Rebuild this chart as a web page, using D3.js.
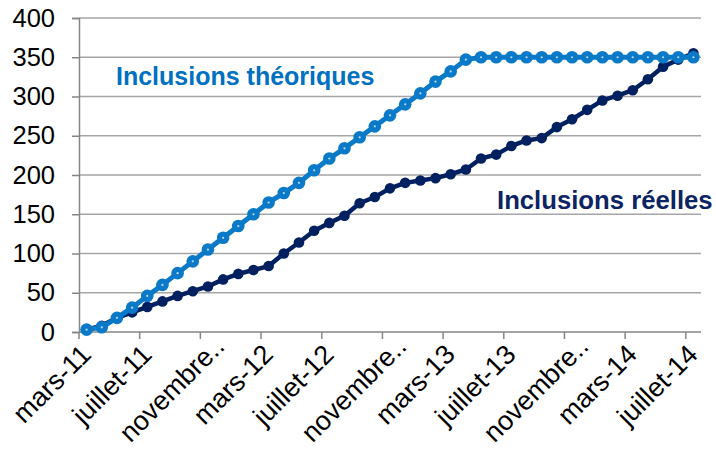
<!DOCTYPE html>
<html>
<head>
<meta charset="utf-8">
<script src="https://cdn.jsdelivr.net/npm/d3@7"></script>
<style>
  body { margin: 0; background: #fff; }
  text { font-family: "Liberation Sans", Arial, sans-serif; }
</style>
</head>
<body>
<script>
// mois de mars 2011 a juillet 2014
var mois = ["mars-11", "avril-11", "mai-11", "juin-11", "juillet-11", "août-11", "septembre-11", "octobre-11",
    "novembre-11", "décembre-11", "janvier-12", "février-12", "mars-12", "avril-12", "mai-12", "juin-12",
    "juillet-12", "août-12", "septembre-12", "octobre-12", "novembre-12", "décembre-12", "janvier-13", "février-13",
    "mars-13", "avril-13", "mai-13", "juin-13", "juillet-13", "août-13", "septembre-13", "octobre-13",
    "novembre-13", "décembre-13", "janvier-14", "février-14", "mars-14", "avril-14", "mai-14", "juin-14", "juillet-14"];

var tickLabels = ["mars-11", "juillet-11", "novembre..", "mars-12", "juillet-12", "novembre..",
    "mars-13", "juillet-13", "novembre..", "mars-14", "juillet-14"];

var yTicks = [0, 50, 100, 150, 200, 250, 300, 350, 400];

var theoriques = [3, 6, 18, 31, 46, 60, 75, 90, 105, 120, 135, 150, 165, 177, 190, 206, 221, 234, 248, 262,
    276, 290, 304, 319, 332, 347, 350, 350, 350, 350, 350, 350, 350, 350, 350, 350, 350, 350, 350, 350, 350];

var reelles = [3, 8, 18, 25, 32, 39, 46, 52, 58, 67, 74, 79, 84, 100, 114, 129, 139, 148, 164, 172,
    183, 190, 193, 196, 201, 207, 221, 226, 237, 244, 247, 261, 271, 283, 295, 301, 308, 322, 338, 347, 355];

function draw() {
    var width = 716;
    var height = 452;
    var svg = d3.select("body")
        .append("svg")
        .attr("width", width)
        .attr("height", height);

    var x = d3.scaleBand().domain(mois).range([79, 701]);
    var y = d3.scaleLinear().domain([0, 400]).range([332, 18]);
    var cx = d => x(d) + x.bandwidth() / 2;

    // grille
    svg.append("g")
        .selectAll("line")
        .data(yTicks.slice(1))
        .join("line")
        .attr("x1", 79)
        .attr("x2", 701)
        .attr("y1", d => y(d))
        .attr("y2", d => y(d))
        .attr("stroke", "#a6a6a6")
        .attr("stroke-width", 1.3);

    // axe Y
    var yAxis = svg.append("g")
        .attr("transform", "translate(79,0)")
        .call(d3.axisLeft(y).tickValues(yTicks).tickSize(7).tickPadding(17));
    yAxis.select(".domain").attr("stroke", "#868686").attr("stroke-width", 1.5);
    yAxis.selectAll(".tick line").attr("stroke", "#868686").attr("stroke-width", 1.5);
    yAxis.selectAll(".tick text")
        .attr("fill", "#000")
        .style("font-size", "25.5px")
        .style("font-family", "'Liberation Sans', Arial, sans-serif");

    // axe X
    var every4 = mois.filter((d, i) => i % 4 === 0);
    var gx = svg.append("g");
    gx.append("line")
        .attr("x1", 79).attr("x2", 701)
        .attr("y1", y(0)).attr("y2", y(0))
        .attr("stroke", "#868686").attr("stroke-width", 1.5);
    gx.selectAll(".tk")
        .data(every4)
        .join("line")
        .attr("class", "tk")
        .attr("x1", d => x(d)).attr("x2", d => x(d))
        .attr("y1", y(0)).attr("y2", y(0) + 7)
        .attr("stroke", "#868686").attr("stroke-width", 1.5);
    // les libelles tronques sont decales comme dans Excel
    gx.selectAll("text")
        .data(every4)
        .join("text")
        .attr("transform", (d, i) => {
            var cut = tickLabels[i].slice(-2) === "..";
            var tx = cx(d) + (cut ? 18 : 6);
            var ty = cut ? 348 : 356;
            return "translate(" + tx + "," + ty + ") rotate(-45)";
        })
        .attr("text-anchor", "end")
        .style("font-size", "27px")
        .attr("fill", "#000")
        .text((d, i) => tickLabels[i]);

    var line = d3.line()
        .x((d, i) => cx(mois[i]))
        .y(d => y(d));

    // Inclusions reelles
    svg.append("path")
        .datum(reelles)
        .attr("fill", "none")
        .attr("stroke", "#002060")
        .attr("stroke-width", 4.5)
        .attr("stroke-linejoin", "round")
        .attr("d", line);
    svg.append("g")
        .selectAll("circle")
        .data(reelles)
        .join("circle")
        .attr("cx", (d, i) => cx(mois[i]))
        .attr("cy", d => y(d))
        .attr("r", 5.3)
        .attr("fill", "#002060");

    // Inclusions theoriques
    svg.append("path")
        .datum(theoriques)
        .attr("fill", "none")
        .attr("stroke", "#0a7ac8")
        .attr("stroke-width", 5)
        .attr("stroke-linejoin", "round")
        .attr("d", line);
    var pts = svg.append("g")
        .selectAll("g")
        .data(theoriques)
        .join("g")
        .attr("transform", (d, i) => "translate(" + cx(mois[i]) + "," + y(d) + ")");
    pts.append("circle").attr("r", 6.3).attr("fill", "#0a7ac8");
    pts.append("circle").attr("r", 1.1).attr("fill", "#b9dcf3");

    // etiquettes des series
    svg.append("text")
        .attr("x", 116)
        .attr("y", 85)
        .attr("fill", "#0070c0")
        .style("font-size", "25px")
        .style("font-weight", "bold")
        .text("Inclusions théoriques");

    svg.append("text")
        .attr("x", 497)
        .attr("y", 209)
        .attr("fill", "#0c2463")
        .style("font-size", "25.7px")
        .style("font-weight", "bold")
        .text("Inclusions réelles");
}

draw();
</script>
</body>
</html>
